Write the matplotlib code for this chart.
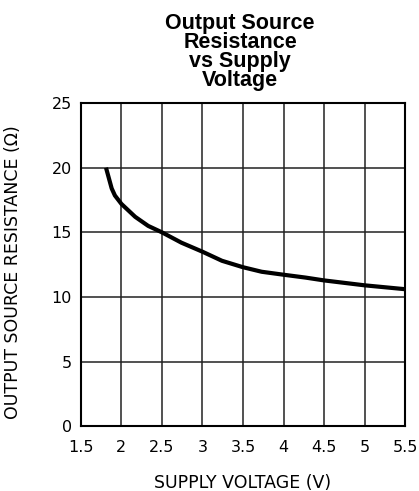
import numpy as np
import matplotlib.pyplot as plt

# supply voltage (V) and output source resistance (ohm)
volts = [1.81, 1.88, 1.92, 2.0, 2.17, 2.33, 2.5, 2.74, 3.0, 3.24, 3.5, 3.73,
         4.0, 4.27, 4.5, 5.0, 5.5]
res = [20.0, 18.4, 17.85, 17.2, 16.2, 15.5, 15.0, 14.2, 13.5, 12.8, 12.3,
       11.95, 11.72, 11.5, 11.28, 10.9, 10.6]

xticks = [1.5, 2, 2.5, 3, 3.5, 4, 4.5, 5, 5.5]
xticklabels = ["1.5", "2", "2.5", "3", "3.5", "4", "4.5", "5", "5.5"]
yticks = [0, 5, 10, 15, 20, 25]

fig = plt.figure(figsize=(4.19, 4.91), dpi=100)
ax = fig.add_axes([0.193, 0.132, 0.774, 0.658])

ax.plot(volts, res, color="black", lw=3, solid_capstyle="butt")

ax.set_xlim(1.5, 5.5)
ax.set_ylim(0, 25)
ax.set_xticks(xticks)
ax.set_xticklabels(xticklabels)
ax.set_yticks(yticks)
ax.grid(True, color="#222222", lw=1.1)
ax.tick_params(length=0, labelsize=11.5)
ax.tick_params(axis="x", pad=10)
ax.tick_params(axis="y", pad=6.5)
for s in ax.spines.values():
    s.set_linewidth(1.5)

# axis labels placed in figure coords
fig.text(0.578, 1 - 483 / 491, "SUPPLY VOLTAGE (V)", ha="center",
         va="center", fontsize=12.5)
fig.text(13 / 419, 1 - 272 / 491, "OUTPUT SOURCE RESISTANCE (Ω)",
         ha="center", va="center", rotation=90, fontsize=12.5)

fig.text(0.573, 1 - 13 / 491, "Output Source\nResistance\nvs Supply\nVoltage",
         ha="center", va="top", fontsize=15.5, fontweight="bold",
         family="Liberation Sans", linespacing=0.88)

fig.savefig("out.png", dpi=100)
